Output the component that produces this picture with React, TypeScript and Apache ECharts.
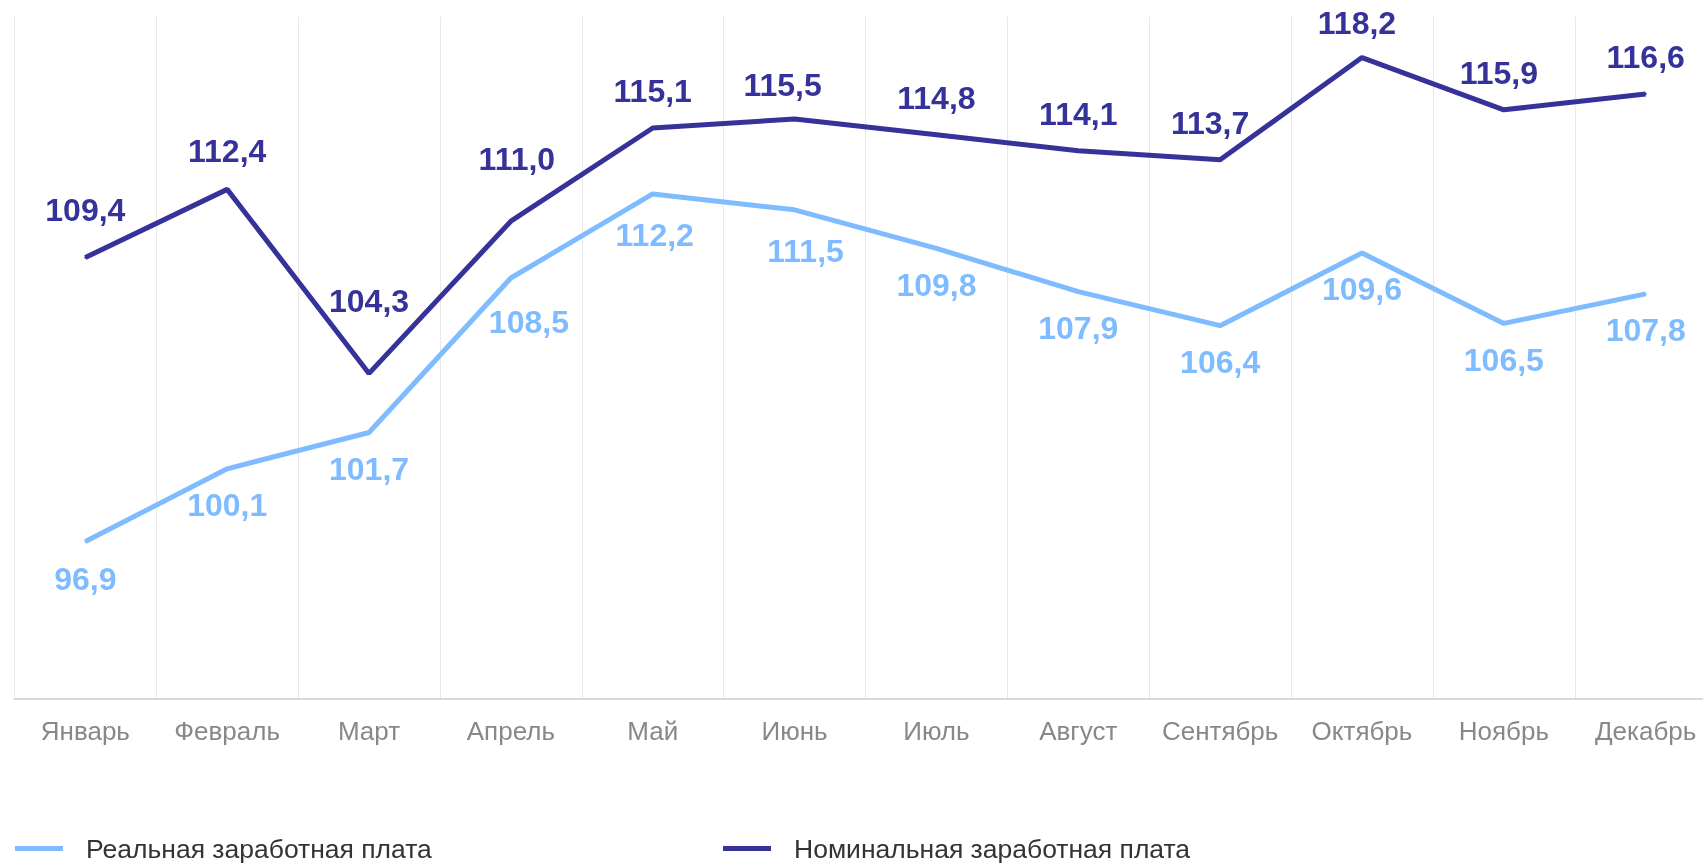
import React, { useEffect, useRef } from "react";
import * as echarts from "echarts";

const months = ["Январь", "Февраль", "Март", "Апрель", "Май", "Июнь", "Июль", "Август", "Сентябрь", "Октябрь", "Ноябрь", "Декабрь"];
const realWage = [96.9, 100.1, 101.7, 108.5, 112.2, 111.5, 109.8, 107.9, 106.4, 109.6, 106.5, 107.8];
const nominalWage = [109.4, 112.4, 104.3, 111.0, 115.1, 115.5, 114.8, 114.1, 113.7, 118.2, 115.9, 116.6];
const seriesNames = ["Реальная заработная плата", "Номинальная заработная плата"];

// label nudges [dx, dy] in px, to reproduce the reference's label placement
const nominalLabelNudge = [[0, -11], [0, -1], [0, -35], [6, -25], [0, 0], [-12, 3], [0, 0], [0, 0], [-10, 0], [-5, 2.5], [-5, 0], [0, 0]];
const realLabelNudge = [[0, 1], [0, 0], [0, 0], [18, 8], [2, 5], [11, 5], [0, 0], [0, 0], [0, 0], [0, 0], [0, 0], [0, 0]];

const DARK = "#35329a";
const LIGHT = "#7fbcff";
const FONT = '"Liberation Sans", Arial, sans-serif';

const fmt = (v: number) => v.toFixed(1).replace(".", ",");

export default function App() {
  const ref = useRef<HTMLDivElement>(null);
  useEffect(() => {
    if (!ref.current) return;
    const chart = echarts.init(ref.current, null, { renderer: "svg" });
    const mk = (vals: number[], nudge: number[][]) =>
      vals.map((v, i) => ({ value: v, label: { offset: nudge[i] } }));
    const labelBase = {
      show: true,
      fontFamily: FONT,
      fontWeight: "bold" as const,
      fontSize: 32,
      lineHeight: 32,
      formatter: (p: any) => fmt(p.value),
    };
    const legendBase = {
      top: 835,
      padding: 0,
      icon: "rect",
      itemWidth: 48,
      itemHeight: 5,
      textStyle: { fontFamily: FONT, fontSize: 26.5, color: "#333", padding: [0, 0, 0, 18] },
    };
    chart.setOption({
      animation: false,
      grid: {
        left: 14.4,
        top: 16.7,
        width: 1702.2,
        height: 681.6,
        containLabel: false,
        outerBoundsMode: "none",
      },
      legend: [
        { ...legendBase, data: [seriesNames[0]], left: 15 },
        { ...legendBase, data: [seriesNames[1]], left: 723 },
      ],
      xAxis: {
        type: "category",
        data: months,
        boundaryGap: true,
        axisLine: { lineStyle: { color: "#cccccc", width: 1.5 } },
        axisTick: { show: false },
        axisLabel: { fontFamily: FONT, fontSize: 26, color: "#888888", margin: 20, interval: 0 },
        splitLine: { show: true, lineStyle: { color: "#e8e8e8", width: 1 } },
      },
      yAxis: {
        type: "value",
        min: 90,
        max: 120,
        show: false,
        splitLine: { show: false },
      },
      series: [
        {
          name: seriesNames[0],
          type: "line",
          data: mk(realWage, realLabelNudge),
          symbol: "circle",
          symbolSize: 2,
          lineStyle: { color: LIGHT, width: 5 },
          itemStyle: { color: LIGHT },
          label: { ...labelBase, position: "bottom", distance: 19.5, color: LIGHT },
          z: 2,
        },
        {
          name: seriesNames[1],
          type: "line",
          data: mk(nominalWage, nominalLabelNudge),
          symbol: "circle",
          symbolSize: 2,
          lineStyle: { color: DARK, width: 5 },
          itemStyle: { color: DARK },
          label: { ...labelBase, position: "top", distance: 20, color: DARK },
          z: 3,
        },
      ],
    });
    return () => chart.dispose();
  }, []);
  return <div ref={ref} style={{ position: "fixed", left: 0, top: 0, width: 1703, height: 865 }} />;
}
